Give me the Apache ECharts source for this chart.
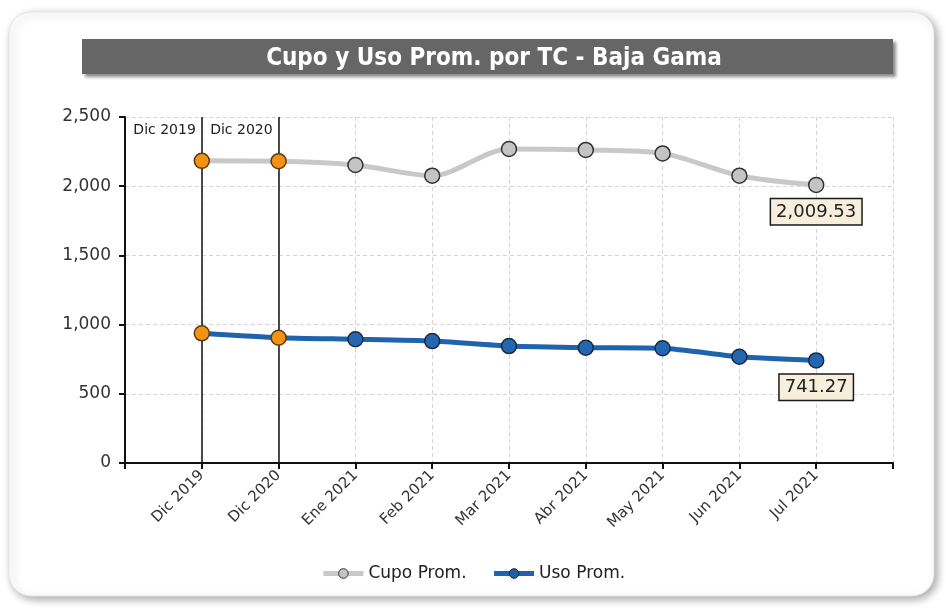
<!DOCTYPE html>
<html>
<head>
<meta charset="utf-8">
<script src="https://cdn.jsdelivr.net/npm/echarts@6/dist/echarts.min.js"></script>
<style>
  html, body { margin: 0; padding: 0; background: #fff; }
  #main { width: 946px; height: 610px; }
</style>
</head>
<body>
<div id="main"></div>
<script>
// categorias (con huecos en los extremos, como en el original)
var categories = ["", "Dic 2019", "Dic 2020", "Ene 2021", "Feb 2021", "Mar 2021", "Abr 2021", "May 2021", "Jun 2021", "Jul 2021", ""];
var cupoProm = ["-", 2183, 2181, 2153, 2076, 2269, 2262, 2237, 2076, 2009.53, "-"];
var usoProm = ["-", 937, 905, 894, 881, 845, 833, 829, 768, 741.27, "-"];
var markedCats = ["Dic 2019", "Dic 2020"];
var yTicks = { min: 0, max: 2500, interval: 500 };

var fmt = function(v, dec) {
  return Number(v).toLocaleString("en-US", { minimumFractionDigits: dec, maximumFractionDigits: dec });
};

var lastIdx = 9;
var buildData = function(values) {
  return values.map((v, i) => {
    var item = { value: v };
    if (markedCats.indexOf(categories[i]) !== -1) {
      item.itemStyle = { color: "#f39316", borderColor: "#5a3a10" };
    }
    if (i === lastIdx) {
      item.label = {
        show: true,
        position: "bottom",
        distance: 6,
        formatter: p => fmt(p.value, 2),
        fontFamily: "DejaVu Sans",
        fontSize: 18,
        color: "#222",
        backgroundColor: "#f7eedc",
        borderColor: "#1a1a1a",
        borderWidth: 1.5,
        padding: [4, 5, 3, 5]
      };
    }
    return item;
  });
};

var myChart = echarts.init(document.getElementById("main"));
var option = {
  animation: false,
  textStyle: { fontFamily: "DejaVu Sans" },
  graphic: [
    {
      type: "rect",
      z: -10,
      shape: { x: 9, y: 12, width: 925, height: 584, r: 22 },
      style: { fill: "#fff", stroke: "#e4e4e4", lineWidth: 1, shadowBlur: 8, shadowOffsetX: 3, shadowOffsetY: 3, shadowColor: "rgba(0,0,0,0.35)" }
    },
    {
      type: "rect",
      z: -5,
      shape: { x: 82, y: 39, width: 811, height: 35 },
      style: { fill: "#666666", shadowBlur: 3, shadowOffsetX: 3, shadowOffsetY: 3, shadowColor: "rgba(0,0,0,0.45)" }
    }
  ],
  title: {
    text: "Cupo y Uso Prom. por TC - Baja Gama",
    left: 489,
    top: 42,
    textAlign: "center",
    textStyle: { color: "#fff", fontFamily: "DejaVu Sans Condensed", fontWeight: "bold", fontSize: 24 }
  },
  legend: {
    top: 560,
    left: "center",
    itemWidth: 40,
    itemHeight: 12,
    itemGap: 25,
    textStyle: { fontFamily: "DejaVu Sans", fontSize: 17, color: "#222" },
    data: [
      { name: "Cupo Prom.", itemStyle: { color: "#c4c4c4", borderColor: "#333", borderWidth: 1 }, lineStyle: { width: 5, color: "#c8c8c8" } },
      { name: "Uso Prom.", itemStyle: { color: "#1f5fa6", borderColor: "#1a2a45", borderWidth: 1 }, lineStyle: { width: 5, color: "#1f63ad" } }
    ]
  },
  grid: { left: 125, right: 53, top: 117, bottom: 147 },
  xAxis: {
    type: "category",
    boundaryGap: false,
    data: categories,
    axisLine: { lineStyle: { color: "#111", width: 2 } },
    axisTick: { show: true, inside: false, length: 6, lineStyle: { color: "#111", width: 2 }, alignWithLabel: true },
    axisLabel: { rotate: 45, fontSize: 15, color: "#333", margin: 10, interval: 0 },
    splitLine: { show: true, lineStyle: { color: "#d4d4d4", type: [4, 3], width: 1 } }
  },
  yAxis: {
    type: "value",
    min: yTicks.min,
    max: yTicks.max,
    interval: yTicks.interval,
    axisLine: { show: true, lineStyle: { color: "#111", width: 2 } },
    axisTick: { show: true, length: 6, lineStyle: { color: "#111", width: 2 } },
    axisLabel: { fontSize: 17, color: "#333", margin: 14, formatter: v => fmt(v, 0) },
    splitLine: { show: true, lineStyle: { color: "#d4d4d4", type: [4, 3], width: 1 } }
  },
  series: [
    {
      name: "Cupo Prom.",
      type: "line",
      smooth: 0.3,
      symbol: "circle",
      symbolSize: 15,
      lineStyle: { color: "#c8c8c8", width: 5 },
      itemStyle: { color: "#c4c4c4", borderColor: "#333", borderWidth: 1.5 },
      data: buildData(cupoProm),
      markLine: {
        silent: true,
        symbol: "none",
        z: 1,
        lineStyle: { color: "#111", width: 1.5, type: "solid" },
        label: { show: false },
        data: markedCats.map(c => ({ xAxis: c }))
      },
      markPoint: {
        silent: true,
        symbol: "circle",
        symbolSize: 0,
        label: {
          show: true,
          position: "left",
          distance: 6,
          offset: [0, 13],
          fontSize: 14,
          color: "#222",
          formatter: p => p.name
        },
        data: markedCats.map(c => ({ name: c, coord: [c, yTicks.max] }))
      }
    },
    {
      name: "Uso Prom.",
      type: "line",
      smooth: 0.2,
      symbol: "circle",
      symbolSize: 15,
      lineStyle: { color: "#1f63ad", width: 5 },
      itemStyle: { color: "#2467b0", borderColor: "#1a2a45", borderWidth: 1.5 },
      data: buildData(usoProm)
    }
  ]
};
myChart.setOption(option);
</script>
</body>
</html>
